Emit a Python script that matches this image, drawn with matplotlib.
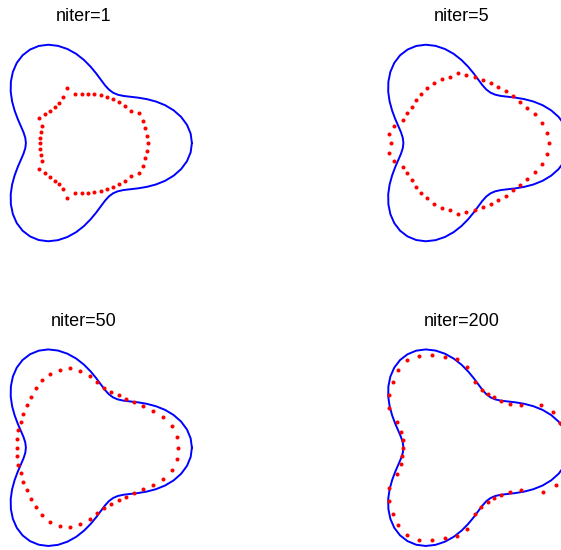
import numpy as np
import matplotlib
matplotlib.use("Agg")
import matplotlib.pyplot as plt

# target curve: radius every 5 degrees, starting at angle 0
target_r = [1.300, 1.290, 1.260, 1.212, 1.150, 1.078, 1.000, 0.922, 0.850, 0.788, 0.740, 0.710,
            0.700, 0.710, 0.740, 0.788, 0.850, 0.922, 1.000, 1.078, 1.150, 1.212, 1.260, 1.290,
            1.300, 1.290, 1.260, 1.212, 1.150, 1.078, 1.000, 0.922, 0.850, 0.788, 0.740, 0.710,
            0.700, 0.710, 0.740, 0.788, 0.850, 0.922, 1.000, 1.078, 1.150, 1.212, 1.260, 1.290,
            1.300, 1.290, 1.260, 1.212, 1.150, 1.078, 1.000, 0.922, 0.850, 0.788, 0.740, 0.710,
            0.700, 0.710, 0.740, 0.788, 0.850, 0.922, 1.000, 1.078, 1.150, 1.212, 1.260, 1.290]

niters = [1, 5, 50, 200]

x_1 = [-0.201, -0.108, -0.028, 0.052, 0.124, 0.201, 0.281, 0.353, 0.426, 0.498, 0.562, 0.667, 0.707, 0.735, 0.755, 0.767,
       0.755, 0.735, 0.707, 0.667, 0.562, 0.498, 0.426, 0.353, 0.281, 0.201, 0.124, 0.052, -0.028, -0.108, -0.201,
       -0.249, -0.297, -0.353, -0.410, -0.474, -0.538, -0.506, -0.518, -0.530, -0.530, -0.530, -0.518, -0.506, -0.538,
       -0.474, -0.410, -0.353, -0.297, -0.249]
y_1 = [0.659, 0.594, 0.590, 0.590, 0.586, 0.574, 0.554, 0.526, 0.490, 0.446, 0.390, 0.357, 0.269, 0.177, 0.084, 0.0,
       -0.092, -0.185, -0.277, -0.365, -0.398, -0.454, -0.498, -0.530, -0.558, -0.578, -0.594, -0.598, -0.602, -0.602, -0.667,
       -0.558, -0.498, -0.454, -0.406, -0.357, -0.309, -0.213, -0.145, -0.076, 0.0, 0.064, 0.133, 0.205, 0.297,
       0.345, 0.390, 0.438, 0.486, 0.550]

x_5 = [-0.046, 0.058, 0.159, 0.255, 0.351, 0.444, 0.532, 0.616, 0.701, 0.789, 0.882, 0.970, 1.026, 1.050,
       1.026, 0.970, 0.882, 0.789, 0.701, 0.616, 0.532, 0.444, 0.351, 0.255, 0.159, 0.058, -0.046,
       -0.143, -0.239, -0.335, -0.412, -0.484, -0.552, -0.600, -0.653, -0.705, -0.817, -0.873, -0.845,
       -0.873, -0.817, -0.705, -0.653, -0.600, -0.552, -0.484, -0.412, -0.335, -0.239, -0.143]
y_5 = [0.839, 0.819, 0.795, 0.763, 0.727, 0.679, 0.622, 0.562, 0.498, 0.426, 0.345, 0.241, 0.124, 0.0,
       -0.133, -0.249, -0.353, -0.434, -0.506, -0.570, -0.635, -0.691, -0.735, -0.771, -0.803, -0.831, -0.851,
       -0.803, -0.779, -0.735, -0.667, -0.598, -0.534, -0.446, -0.365, -0.289, -0.217, -0.116, -0.004,
       0.108, 0.205, 0.277, 0.357, 0.438, 0.518, 0.590, 0.659, 0.723, 0.767, 0.791]

x_50 = [-0.811, -0.799, -0.763, -0.731, -0.691, -0.639, -0.578, -0.506, -0.410, -0.289, -0.169, -0.048,
        0.072, 0.161, 0.245, 0.329, 0.422, 0.506, 0.602, 0.707, 0.827, 0.956, 1.064, 1.116, 1.129,
        1.116, 1.064, 0.956, 0.827, 0.707, 0.602, 0.506, 0.422, 0.329, 0.245, 0.161, 0.072,
        -0.048, -0.169, -0.289, -0.410, -0.506, -0.578, -0.639, -0.691, -0.731, -0.763, -0.799, -0.811, -0.803]
y_50 = [0.100, 0.209, 0.309, 0.410, 0.514, 0.614, 0.719, 0.815, 0.892, 0.940, 0.956, 0.924,
        0.859, 0.787, 0.723, 0.675, 0.635, 0.590, 0.546, 0.502, 0.446, 0.373, 0.265, 0.133, 0.0,
        -0.133, -0.265, -0.373, -0.446, -0.502, -0.546, -0.590, -0.635, -0.675, -0.723, -0.787, -0.859,
        -0.924, -0.956, -0.940, -0.892, -0.815, -0.719, -0.614, -0.514, -0.410, -0.309, -0.209, -0.100, 0.0]

x_200 = [-0.709, -0.729, -0.781, -0.869, -0.873, -0.829, -0.769, -0.661, -0.512, -0.351, -0.199, -0.054,
         0.070, 0.159, 0.243, 0.323, 0.396, 0.476, 0.580, 0.717, 0.954, 1.106, 1.187, 1.275, 1.300,
         1.291, 1.235, 1.139, 0.978, 0.717, 0.580, 0.476, 0.396, 0.315, 0.235, 0.159, 0.070,
         -0.054, -0.199, -0.351, -0.512, -0.661, -0.769, -0.829, -0.873, -0.873, -0.781, -0.729, -0.713, -0.709]
y_200 = [0.092, 0.189, 0.313, 0.482, 0.639, 0.791, 0.940, 1.052, 1.108, 1.112, 1.092, 1.064,
         0.976, 0.791, 0.695, 0.647, 0.606, 0.562, 0.530, 0.514, 0.518, 0.430, 0.293, 0.145, 0.0,
         -0.153, -0.321, -0.450, -0.534, -0.514, -0.534, -0.570, -0.610, -0.651, -0.711, -0.795, -0.984,
         -1.064, -1.092, -1.108, -1.108, -1.052, -0.936, -0.795, -0.643, -0.482, -0.313, -0.197, -0.096, 0.0]

dots = [(x_1, y_1), (x_5, y_5), (x_50, y_50), (x_200, y_200)]

W, H = 561, 550
fig = plt.figure(figsize=(W / 100, H / 100), dpi=100)

theta = np.deg2rad(np.arange(0, 360, 5))
r = np.array(target_r)
tx = np.append(r * np.cos(theta), r[0])
ty = np.append(r * np.sin(theta), 0.0)

S = 83.0  # pixels per unit
centers = [(84, 143), (461.5, 143), (84, 447.7), (461.5, 447.7)]
xl, yl = (-1.0, 1.45), (-1.25, 1.25)

for k in range(4):
    cx, cy = centers[k]
    left = cx + xl[0] * S
    top = cy - yl[1] * S
    w = (xl[1] - xl[0]) * S
    h = (yl[1] - yl[0]) * S
    ax = fig.add_axes([left / W, 1 - (top + h) / H, w / W, h / H])
    ax.plot(tx, ty, color="#0000ff", lw=1.4)
    ax.plot(dots[k][0], dots[k][1], linestyle="none", marker="o", ms=2.9,
            mew=0, color="#ff0000")
    ax.set_xlim(xl)
    ax.set_ylim(yl)
    ax.axis("off")
    ax.text(0, 1.47, "niter=%d" % niters[k], ha="center", va="baseline",
            fontsize=13, family="Liberation Sans", color="black", clip_on=False)

fig.savefig("out.png", dpi=100)
